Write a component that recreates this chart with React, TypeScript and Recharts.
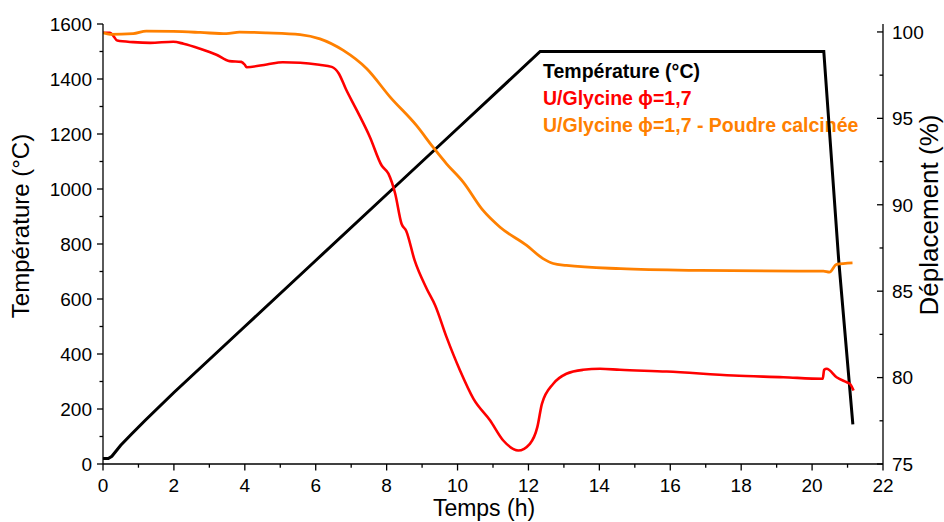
import { Line, LineChart, XAxis, YAxis } from "recharts";

// Temps (h) / Température (°C) du programme thermique
const TEMP_T = [0, 0.15, 0.25, 0.5, 0.8, 1.2, 2, 4, 6, 8, 10, 12.33, 20.33, 20.75, 21.15];
const TEMP_C = [20, 20, 28, 68, 108, 160, 260, 500, 740, 980, 1220, 1500, 1500, 742, 144];

// U/Glycine phi=1,7 : déplacement (%)
const U_T = [
  0, 0.2, 0.3, 0.4, 0.85, 1.33, 1.98, 2.27, 2.74, 3.2, 3.57, 3.9, 4.0, 4.05, 4.62, 5.07,
  5.56, 6.1, 6.45, 6.65, 6.85, 7.16, 7.53, 7.86, 8.05, 8.24, 8.42, 8.55, 8.79, 9.13, 9.37,
  9.69, 10.07, 10.45, 10.92, 11.29, 11.71, 12.04, 12.25, 12.38, 12.7, 13.07, 13.54, 14.02,
  14.58, 15.9, 17.78, 19.19, 20.3, 20.34, 20.41, 20.69, 20.98, 21.07, 21.17,
];
const U_PCT = [
  99.95, 99.95, 99.75, 99.5, 99.41, 99.37, 99.43, 99.32, 99.03, 98.68, 98.31, 98.27, 98.1,
  97.96, 98.12, 98.25, 98.22, 98.1, 97.98, 97.6, 96.7, 95.46, 93.91, 92.27, 91.8, 90.65,
  88.9, 88.5, 86.78, 85.14, 84.17, 82.34, 80.41, 78.77, 77.52, 76.36, 75.78, 76.17, 77.13,
  78.48, 79.64, 80.22, 80.45, 80.51, 80.45, 80.35, 80.12, 80.02, 79.93, 80.45, 80.51, 80.02,
  79.73, 79.64, 79.25,
];

// U/Glycine phi=1,7 - Poudre calcinée : déplacement (%)
const CALC_T = [
  0, 0.2, 0.85, 1.22, 1.98, 2.74, 3.48, 3.85, 4.62, 5.56, 6.12, 6.78, 7.44, 8.1, 8.84, 9.31,
  9.69, 10.16, 10.72, 11.2, 11.95, 12.4, 12.7, 13.07, 14.6, 16.84, 19.66, 20.32, 20.49,
  20.69, 21.14,
];
const CALC_PCT = [
  99.95, 99.86, 99.9, 100.05, 100.03, 99.97, 99.9, 99.99, 99.95, 99.85, 99.6, 98.93, 97.87,
  96.23, 94.59, 93.33, 92.37, 91.31, 89.67, 88.7, 87.65, 86.9, 86.6, 86.49, 86.3, 86.2,
  86.16, 86.16, 86.1, 86.55, 86.64,
];

const X_TICKS = [0, 1, 2, 3, 4, 5, 6, 7, 8, 9, 10, 11, 12, 13, 14, 15, 16, 17, 18, 19, 20, 21, 22];
const LEFT_TICKS = [
  0, 100, 200, 300, 400, 500, 600, 700, 800, 900, 1000, 1100, 1200, 1300, 1400, 1500, 1600,
];
const RIGHT_TICKS = [75, 77.5, 80, 82.5, 85, 87.5, 90, 92.5, 95, 97.5, 100];

const FONT = "'Liberation Sans', Arial, sans-serif";
const AXIS = { stroke: "#000", strokeWidth: 1.3 };

const tempData = TEMP_T.map((t, i) => ({ t, v: TEMP_C[i] }));
const uData = U_T.map((t, i) => ({ t, v: U_PCT[i] }));
const calcData = CALC_T.map((t, i) => ({ t, v: CALC_PCT[i] }));

// eslint-disable-next-line @typescript-eslint/no-explicit-any
function LeftTick({ x, y, payload }: any) {
  const major = payload.value % 200 === 0;
  return (
    <g>
      <line x1={x} x2={x - (major ? 6 : 3.5)} y1={y} y2={y} {...AXIS} />
      {major && (
        <text x={x - 11} y={y} dy="0.36em" textAnchor="end" fontSize={19} fontFamily={FONT} fill="#000">
          {payload.value}
        </text>
      )}
    </g>
  );
}

// eslint-disable-next-line @typescript-eslint/no-explicit-any
function RightTick({ x, y, payload }: any) {
  const major = payload.value % 5 === 0;
  return (
    <g>
      <line x1={x} x2={x - (major ? 6 : 3.5)} y1={y} y2={y} {...AXIS} />
      {major && (
        <text x={x + 9} y={y} dy="0.36em" textAnchor="start" fontSize={19} fontFamily={FONT} fill="#000">
          {payload.value}
        </text>
      )}
    </g>
  );
}

// eslint-disable-next-line @typescript-eslint/no-explicit-any
function BottomTick({ x, y, payload }: any) {
  const major = payload.value % 2 === 0;
  return (
    <g>
      <line x1={x} x2={x} y1={y} y2={y + (major ? 6.5 : 3.7)} {...AXIS} />
      {major && (
        <text x={x} y={y + 28} textAnchor="middle" fontSize={19} fontFamily={FONT} fill="#000">
          {payload.value}
        </text>
      )}
    </g>
  );
}

// eslint-disable-next-line @typescript-eslint/no-explicit-any
function TopTick({ x, y }: any) {
  return <line x1={x} x2={x} y1={y} y2={y + 2} {...AXIS} />;
}

export default function App() {
  return (
    <div style={{ position: "absolute", left: 0, top: 0, width: 944, height: 522, background: "#fff" }}>
      {/* titles + legend, under the chart so the lines pass over them */}
      <svg width={944} height={522} style={{ position: "absolute", left: 0, top: 0 }}>
        <text
          transform="translate(29,226) rotate(-90)"
          textAnchor="middle"
          fontSize={24}
          fontFamily={FONT}
          fill="#000"
        >
          Température (°C)
        </text>
        <text
          transform="translate(938,215) rotate(-90)"
          textAnchor="middle"
          fontSize={26}
          fontFamily={FONT}
          fill="#000"
        >
          Déplacement (%)
        </text>
        <text x={484} y={516} textAnchor="middle" fontSize={23} fontFamily={FONT} fill="#000">
          Temps (h)
        </text>
        <g fontFamily={FONT} fontSize={19.5} fontWeight="bold">
          <text x={543} y={77.5} fill="#000">Température (°C)</text>
          <text x={543} y={105} fill="#ff0000">U/Glycine ϕ=1,7</text>
          <text x={543} y={132} fill="#ff8000">U/Glycine ϕ=1,7 - Poudre calcinée</text>
        </g>
      </svg>

      <div style={{ position: "absolute", left: 0, top: 0 }}>
        <LineChart width={944} height={522} margin={{ top: 24, right: 0, bottom: 0, left: 0 }}>
          <XAxis
            xAxisId="bottom"
            dataKey="t"
            type="number"
            domain={[0, 22]}
            ticks={X_TICKS}
            interval={0}
            height={58}
            tickSize={0}
            tickMargin={0}
            tickLine={false}
            axisLine={AXIS}
            tick={<BottomTick />}
            allowDataOverflow
          />
          <XAxis
            xAxisId="top"
            orientation="top"
            dataKey="t"
            type="number"
            domain={[0, 22]}
            ticks={X_TICKS}
            interval={0}
            height={0}
            tickSize={0}
            tickMargin={0}
            tickLine={false}
            axisLine={AXIS}
            tick={<TopTick />}
            allowDataOverflow
          />
          <YAxis
            yAxisId="left"
            type="number"
            domain={[0, 1600]}
            ticks={LEFT_TICKS}
            interval={0}
            width={103}
            tickSize={0}
            tickMargin={0}
            tickLine={false}
            axisLine={AXIS}
            tick={<LeftTick />}
            allowDataOverflow
          />
          <YAxis
            yAxisId="right"
            orientation="right"
            type="number"
            domain={[75, 100.46]}
            ticks={RIGHT_TICKS}
            interval={0}
            width={61}
            tickSize={0}
            tickMargin={0}
            tickLine={false}
            axisLine={AXIS}
            tick={<RightTick />}
            allowDataOverflow
          />
          <Line
            data={tempData}
            dataKey="v"
            xAxisId="bottom"
            yAxisId="left"
            type="linear"
            stroke="#000"
            strokeWidth={3}
            dot={false}
            isAnimationActive={false}
          />
          <Line
            data={uData}
            dataKey="v"
            xAxisId="bottom"
            yAxisId="right"
            type="monotone"
            stroke="#ff0000"
            strokeWidth={2.6}
            dot={false}
            isAnimationActive={false}
          />
          <Line
            data={calcData}
            dataKey="v"
            xAxisId="bottom"
            yAxisId="right"
            type="monotone"
            stroke="#ff8000"
            strokeWidth={2.8}
            dot={false}
            isAnimationActive={false}
          />
        </LineChart>
      </div>
    </div>
  );
}
